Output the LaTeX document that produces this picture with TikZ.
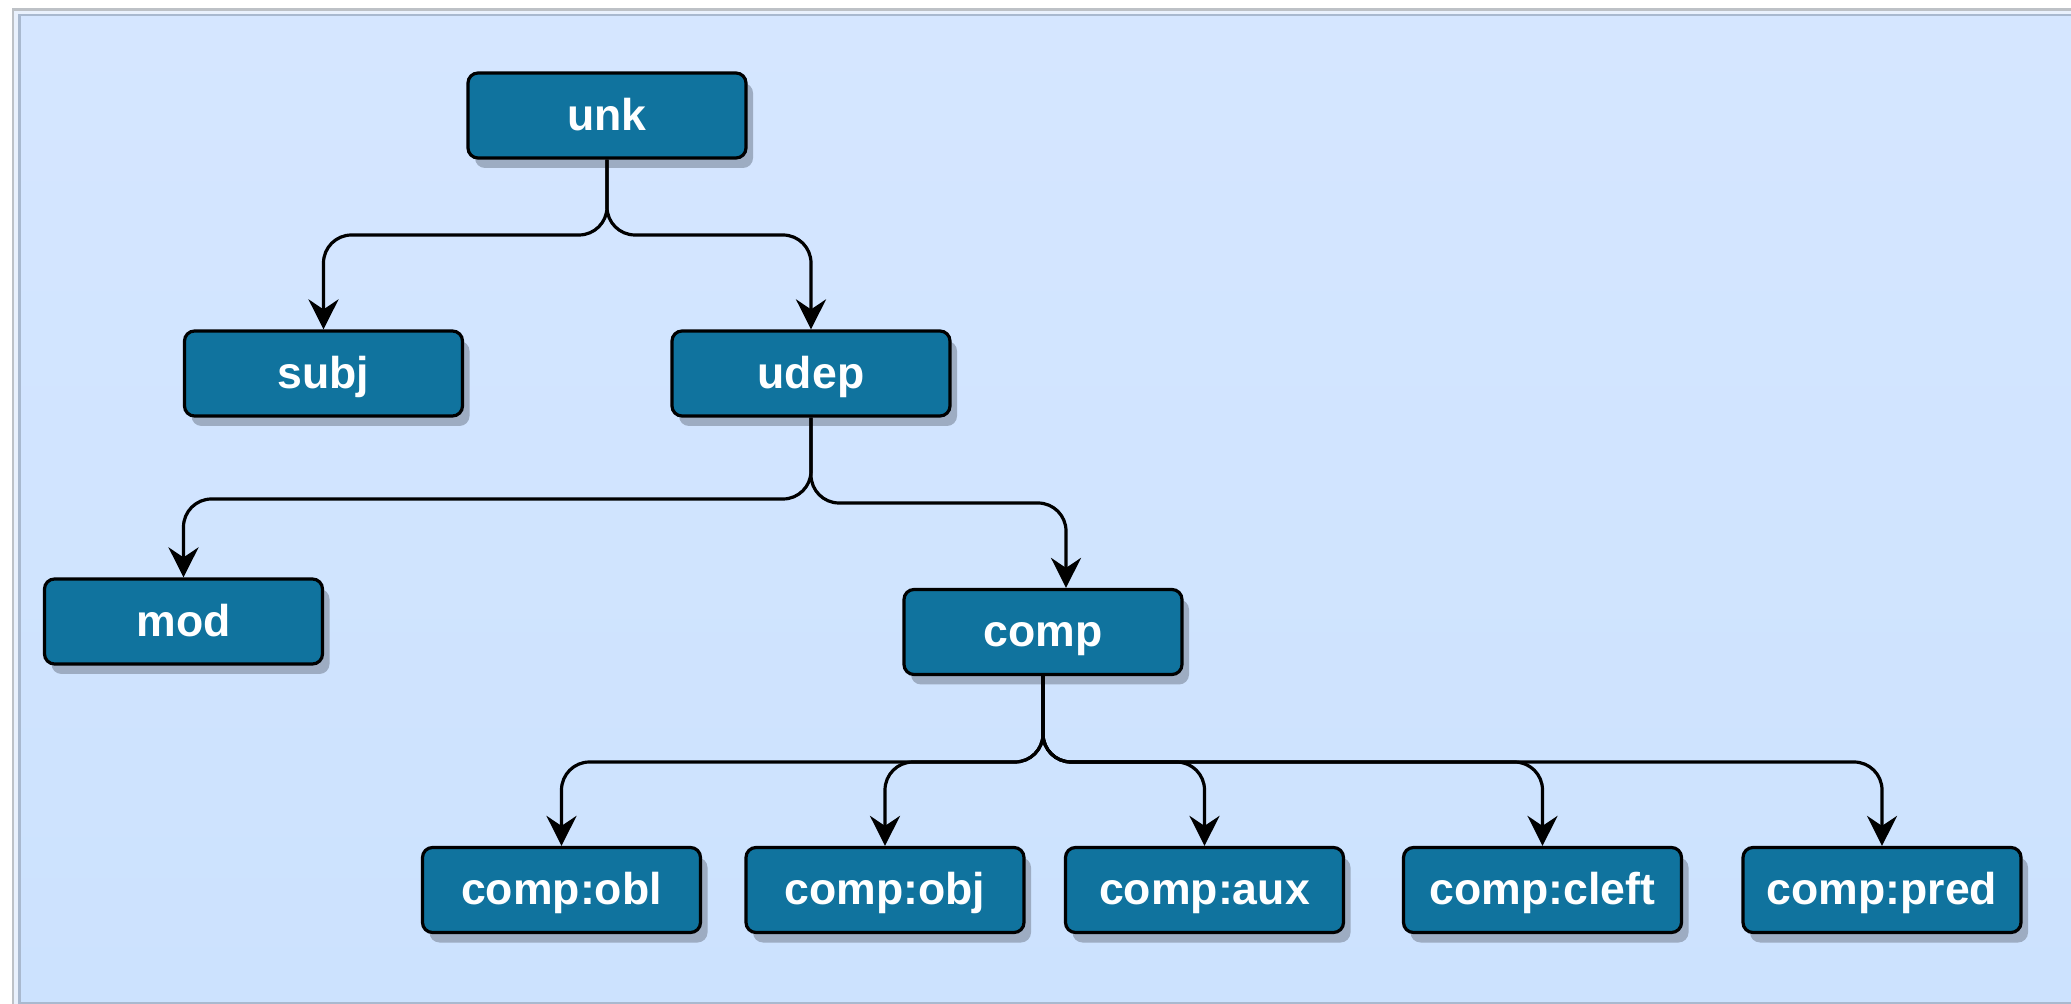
\documentclass[tikz,border=0pt]{standalone}
\usepackage{fontspec}
\setmainfont{Liberation Sans}
\usetikzlibrary{shadows,arrows.meta,calc}
\definecolor{nodefill}{HTML}{10739E}
\definecolor{shadowcol}{HTML}{9DACC2}
\definecolor{bgtop}{HTML}{D5E6FF}
\definecolor{bgbot}{HTML}{CCE2FE}
\definecolor{frameout}{HTML}{BDC1C6}
\definecolor{framemid}{HTML}{E9F1FD}
\definecolor{framein}{HTML}{A9B9CF}

\begin{document}
\begin{tikzpicture}[x=0.5pt,y=-0.5pt,
  box/.style={draw=black, line width=1.6pt, fill=nodefill, rounded corners=5pt,
    minimum width=139pt, minimum height=42.5pt, inner sep=0pt, text=white,
    font=\fontsize{22.3}{26}\selectfont\bfseries, text height=16pt, text depth=1.2pt,
    drop shadow={shadow xshift=3.5pt, shadow yshift=-5pt, fill=shadowcol, opacity=1}},
  conn/.style={draw=black, line width=1.6pt, rounded corners=14pt,
    -{Stealth[length=15pt,width=15pt,inset=5pt]}}]

% canvas and frame
\useasboundingbox (0,0) rectangle (2071,1004);
\fill[white] (0,0) rectangle (2071,1004);
\fill[frameout] (12,8) rectangle (2071,1004);
\fill[framemid] (14,11) rectangle (2071,1004);
\fill[framein] (18,14) rectangle (2071,1004);
\shade[top color=bgtop, bottom color=bgbot] (21,17) rectangle (2071,1001);

% relation nodes
\node[box] (unk)  at (607,115.5) {unk};
\node[box] (subj) at (323.5,373.5) {subj};
\node[box] (udep) at (811,373.5) {udep};
\node[box] (mod)  at (183.5,621.5) {mod};
\node[box] (comp) at (1043,632) {comp};
\node[box] (cobl)   at (561.5,890) {comp:obl};
\node[box] (cobj)   at (885,890) {comp:obj};
\node[box] (caux)   at (1204.5,890) {comp:aux};
\node[box] (ccleft) at (1542.5,890) {comp:cleft};
\node[box] (cpred)  at (1882,890) {comp:pred};

% bus levels of the elbow connectors
\coordinate (bus1) at (0,235);
\coordinate (bus2l) at (0,499);
\coordinate (bus2r) at (0,503);
\coordinate (bus3) at (0,762);

\draw[conn] (unk.south) -- (unk.south |- bus1) -| (subj.north);
\draw[conn] (unk.south) -- (unk.south |- bus1) -| (udep.north);
\draw[conn] (udep.south) -- (udep.south |- bus2l) -| (mod.north);
\draw[conn] (udep.south) -- (udep.south |- bus2r) -| ([xshift=11.5pt]comp.north);
\foreach \t in {cobl,cobj,caux,ccleft,cpred}
  \draw[conn] (comp.south) -- (comp.south |- bus3) -| (\t.north);
\end{tikzpicture}
\end{document}
